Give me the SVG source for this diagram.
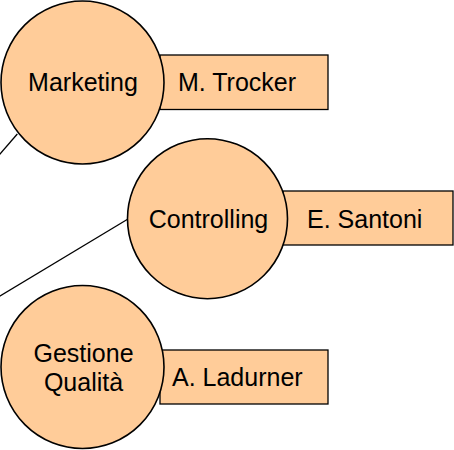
<svg xmlns="http://www.w3.org/2000/svg" width="454" height="450" viewBox="0 0 454 450">
<style>
.c{fill:#FFCC99;stroke:#000;stroke-width:1.6}
.r{fill:#FFCC99;stroke:#000;stroke-width:1.3}
text{font-family:"Liberation Sans",Arial,sans-serif;font-size:25px;fill:#000}
.m{text-anchor:middle}
.l{fill:none;stroke:#000;stroke-width:1.3}
</style>
<rect width="454" height="450" fill="#fff"/>
<g id="connectors">
<line class="l" x1="-2" y1="156.4" x2="17.3" y2="134"/>
<line class="l" x1="-2" y1="297.2" x2="128" y2="219"/>
</g>
<g id="marketing">
<rect class="r" x="160" y="55" width="168" height="54.5"/>
<circle class="c" cx="82.5" cy="82.5" r="81.5"/>
<text class="m" x="83" y="91">Marketing</text>
<text x="178" y="91">M. Trocker</text>
</g>
<g id="controlling">
<rect class="r" x="283" y="191" width="170" height="54"/>
<circle class="c" cx="207.5" cy="218.7" r="80"/>
<text class="m" x="208.5" y="228">Controlling</text>
<text x="307" y="228">E. Santoni</text>
</g>
<g id="qualita">
<rect class="r" x="160" y="350" width="168" height="54"/>
<circle class="c" cx="82.5" cy="367" r="81.5"/>
<text class="m" x="83.5" y="362">Gestione</text>
<text class="m" x="83.5" y="391">Qualità</text>
<text x="172" y="386">A. Ladurner</text>
</g>
</svg>
